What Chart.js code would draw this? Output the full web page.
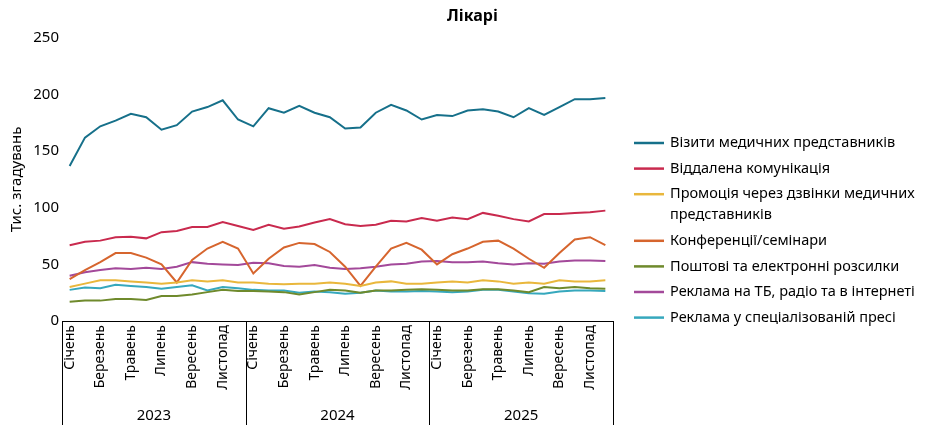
<!DOCTYPE html>
<html>
<head>
<meta charset="utf-8">
<script src="https://cdn.jsdelivr.net/npm/chart.js@4.4.1/dist/chart.umd.min.js"></script>
<style>
  html, body { margin: 0; padding: 0; background: #ffffff; }
  #wrap { width: 945px; height: 431px; position: relative; }
</style>
</head>
<body>
<div id="wrap"><canvas id="c" width="945" height="431"></canvas></div>
<script>
const months = ['Січень','Лютий','Березень','Квітень','Травень','Червень','Липень','Серпень','Вересень','Жовтень','Листопад','Грудень'];
const years = ['2023','2024','2025'];
const yTicks = [0, 50, 100, 150, 200, 250];
const chartTitle = 'Лікарі';

const seriesNames = [
  'Візити медичних представників',
  'Віддалена комунікація',
  'Промоція через дзвінки медичних представників',
  'Конференції/семінари',
  'Поштові та електронні розсилки',
  'Реклама на ТБ, радіо та в інтернеті',
  'Реклама у спеціалізованій пресі'
];

const vizyty = [137,162,172,177,183,180,169,173,185,189,195,178, 172,188,184,190,184,180,170,171,184,191,186,178, 182,181,186,187,185,180,188,182,189,196,196,197];
const viddalena = [67,70,71,74,74.5,73,78.5,79.5,83,83,87.5,84, 80.5,85,81.5,83.5,87,90,85.5,84,85,88.5,88,91, 88.5,91.5,90,95.5,93,90,88,94.5,94.5,95.5,96,97.5];
const promotsiya = [30,33,36,36,35,34,33,34,36,35,36,34, 34,33,32.5,33,33,34,33,31,34,35,33,33, 34,35,34,36,35,33,34,33,36,35,35,36];
const konferentsii = [37,45,52,60,60,56,50,34,54,64,70,64, 42,55,65,69,68,61,48,31,48,64,69,63, 50,59,64,70,71,64,55,47,60,72,74,67];
const poshtovi = [17,18,18,19.5,19.5,18.5,22,22,23.5,25.5,27.5,26.5, 26.5,26,25.5,23.5,25.5,27.5,27,25,27,27,27.5,28, 27.5,27,27,28,28,27,25.5,30,29,30,29,28.5];
const reklamaTB = [40,43,45,46.5,46,47,46,48,52,50.5,50,49.5, 51.5,51,48.5,48,49.5,47,46,46.5,48,50,50.5,52.5, 53,52,52,52.5,51,50,51,50.5,52.5,53.5,53.5,53];
const presa = [27.5,29.5,29,32,31,30,28.5,30,31.5,27,30,29, 27.5,27,27,25,26,25.5,24,25,27,26,26,26.5, 26,25.5,26,27.5,27.5,26,24.5,24,26,27,27,26.5];

const colors = ['#16708a', '#c92a4e', '#e9b73c', '#d6652e', '#6f8a2c', '#a3499a', '#36a8bd'];

const categories = [];
years.forEach(y => months.forEach(m => categories.push(m + ' ' + y)));

const allSeries = [vizyty, viddalena, promotsiya, konferentsii, poshtovi, reklamaTB, presa];

const FONT = "'Noto Sans', 'DejaVu Sans', sans-serif";

const titlePlugin = {
  id: 'pageTitle',
  afterDraw(chart) {
    const ctx = chart.ctx;
    ctx.save();
    ctx.font = 'bold 16px ' + FONT;
    ctx.fillStyle = '#000000';
    ctx.textAlign = 'center';
    ctx.textBaseline = 'middle';
    ctx.fillText(chartTitle, chart.width / 2, 16);
    ctx.restore();
  }
};

const legendPlugin = {
  id: 'sideLegend',
  afterDraw(chart) {
    const ctx = chart.ctx;
    ctx.save();
    ctx.font = '14.5px ' + FONT;
    ctx.textBaseline = 'middle';
    ctx.textAlign = 'left';
    const lineX0 = 634, lineX1 = 664, textX = 670, maxW = 262;
    let y = 143;
    chart.data.datasets.forEach(ds => {
      ctx.strokeStyle = ds.borderColor;
      ctx.lineWidth = 2.5;
      ctx.beginPath();
      ctx.moveTo(lineX0, y);
      ctx.lineTo(lineX1, y);
      ctx.stroke();
      const words = ds.label.split(' ');
      const lines = [];
      let cur = '';
      words.forEach(w => {
        const test = cur ? cur + ' ' + w : w;
        if (ctx.measureText(test).width > maxW && cur) { lines.push(cur); cur = w; }
        else cur = test;
      });
      lines.push(cur);
      ctx.fillStyle = '#000000';
      lines.forEach((ln, i) => ctx.fillText(ln, textX, y + i * 21));
      y += 25.6 + (lines.length - 1) * 21;
    });
    ctx.restore();
  }
};

const yearPlugin = {
  id: 'yearGroups',
  afterDraw(chart) {
    const ctx = chart.ctx;
    const xs = chart.scales.x;
    const area = chart.chartArea;
    ctx.save();
    ctx.strokeStyle = '#000000';
    ctx.lineWidth = 1;
    const bottom = 425;
    const per = months.length;
    const bounds = [area.left];
    for (let k = 1; k < years.length; k++) {
      bounds.push((xs.getPixelForValue(k * per - 1) + xs.getPixelForValue(k * per)) / 2);
    }
    bounds.push(area.right);
    bounds.forEach(bx => {
      const px = Math.round(bx) + 0.5;
      ctx.beginPath();
      ctx.moveTo(px, area.bottom);
      ctx.lineTo(px, bottom);
      ctx.stroke();
    });
    ctx.fillStyle = '#000000';
    ctx.font = '15px ' + FONT;
    ctx.textAlign = 'center';
    ctx.textBaseline = 'middle';
    years.forEach((yr, k) => {
      ctx.fillText(yr, (bounds[k] + bounds[k + 1]) / 2, 416);
    });
    ctx.restore();
  }
};

new Chart(document.getElementById('c'), {
  type: 'line',
  data: {
    labels: categories,
    datasets: seriesNames.map((name, i) => ({
      label: name,
      data: allSeries[i],
      borderColor: colors[i],
      backgroundColor: colors[i],
      borderWidth: 2,
      pointRadius: 0,
      pointHoverRadius: 0,
      tension: 0,
      fill: false
    }))
  },
  options: {
    responsive: false,
    animation: false,
    devicePixelRatio: 1,
    layout: { padding: { left: 0, right: 332, top: 38, bottom: 0 } },
    plugins: {
      legend: { display: false },
      tooltip: { enabled: false },
      title: { display: false }
    },
    scales: {
      x: {
        offset: true,
        grid: { display: false, drawTicks: false },
        border: { display: true, color: '#000000', width: 1 },
        ticks: {
          autoSkip: false,
          maxRotation: 90,
          minRotation: 90,
          padding: 4,
          color: '#000000',
          font: { family: FONT, size: 14 },
          callback: function(value, index) {
            return index % 2 === 0 ? months[index % months.length] : '';
          }
        },
        afterFit(scale) { scale.height = 110; }
      },
      y: {
        min: 0,
        max: 250,
        afterBuildTicks(scale) { scale.ticks = yTicks.map(v => ({ value: v })); },
        grid: { display: false, drawTicks: false },
        border: { display: false },
        ticks: {
          padding: 3,
          color: '#000000',
          font: { family: FONT, size: 15 }
        },
        title: {
          display: true,
          text: 'Тис. згадувань',
          color: '#000000',
          font: { family: FONT, size: 15 },
          padding: { top: 8, bottom: 0 }
        },
        afterFit(scale) { scale.width = 62; }
      }
    }
  },
  plugins: [titlePlugin, legendPlugin, yearPlugin]
});
</script>
</body>
</html>
